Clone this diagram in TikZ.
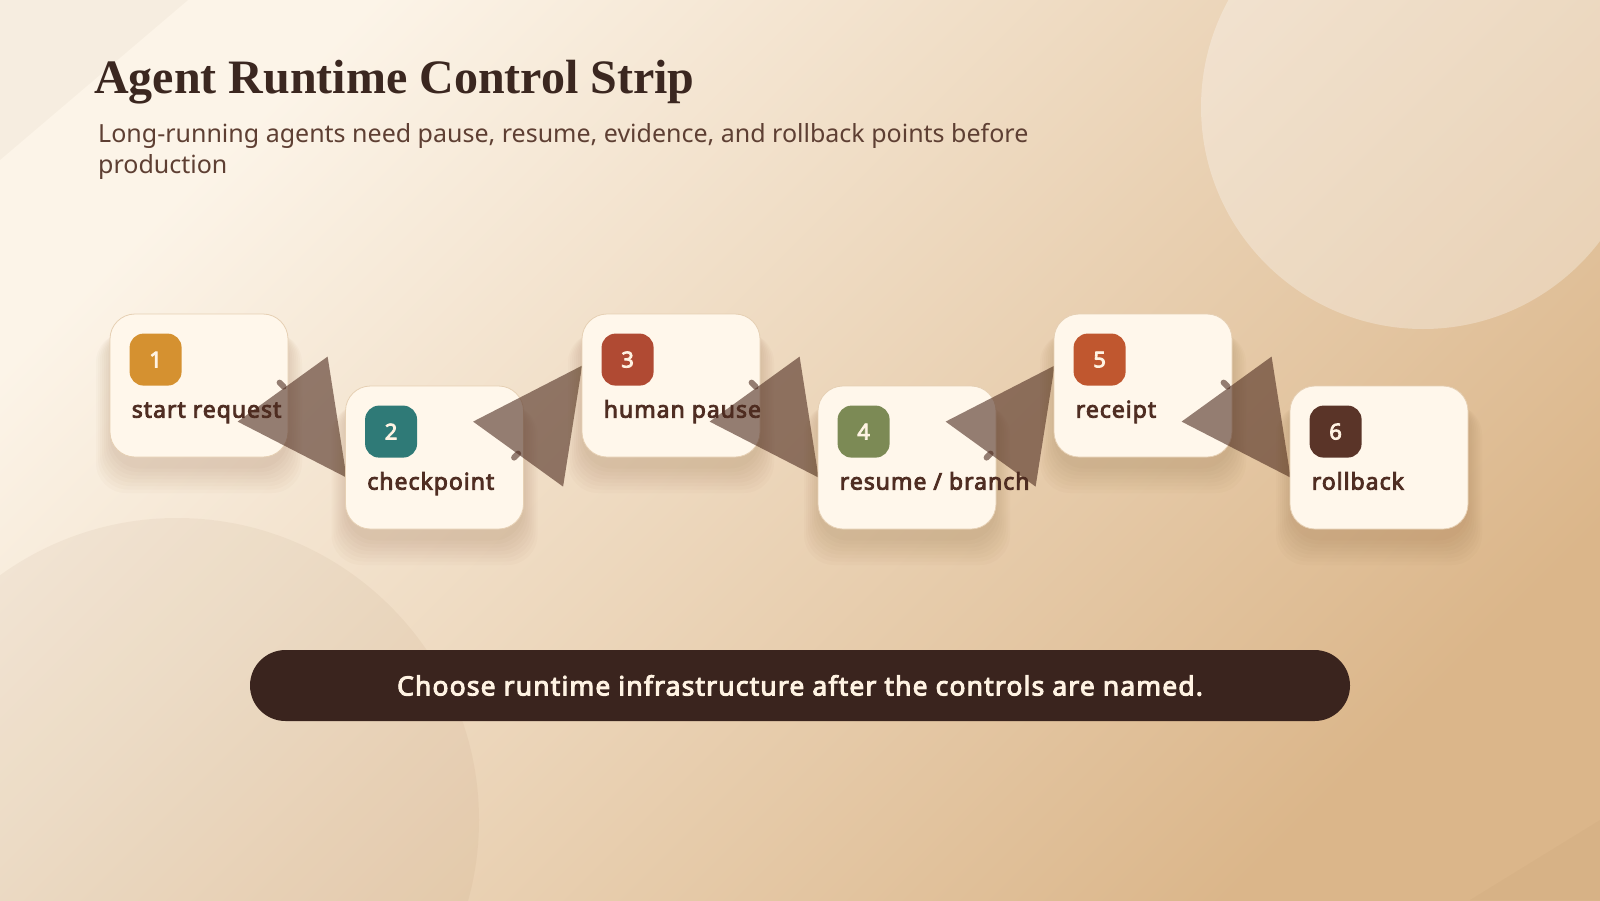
\documentclass[tikz,border=0pt]{standalone}
\usepackage{fontspec}
\usetikzlibrary{calc}
\newfontfamily\sansf{Noto Sans}
\newfontfamily\sansb{Noto Sans}[FakeBold=3.6, LetterSpace=4.3]
\newfontfamily\seriff{Liberation Serif}
\definecolor{bgA}{HTML}{FCF4E8}
\definecolor{bgM}{HTML}{F0DEC5}
\definecolor{bgB}{HTML}{DBB68A}
\definecolor{cardfill}{HTML}{FFF7EB}
\definecolor{cardline}{HTML}{E6D0B4}
\definecolor{shadowc}{HTML}{7A4A20}
\definecolor{ink}{HTML}{3B2720}
\definecolor{subink}{HTML}{5E3F33}
\definecolor{lblink}{HTML}{4F2D22}
\definecolor{cream}{HTML}{FFF3E3}
\definecolor{arrowc}{HTML}{4E2C20}
\definecolor{barc}{HTML}{3A241E}
\definecolor{cA}{HTML}{D59130}
\definecolor{cB}{HTML}{2F7A77}
\definecolor{cC}{HTML}{B04A33}
\definecolor{cD}{HTML}{7C8A55}
\definecolor{cE}{HTML}{C0572F}
\definecolor{cF}{HTML}{5A3428}
\tikzset{
  card/.style={draw=cardline, line width=0.8pt, fill=cardfill, rounded corners=25pt,
    minimum width=178pt, minimum height=143pt, inner sep=0pt},
  badge/.style={fill=#1, rounded corners=14pt, minimum size=52pt, inner sep=0pt,
    text=cream, font=\sansb\fontsize{22}{26}\selectfont},
  lbl/.style={anchor=base west, inner sep=0pt, text=lblink,
    font=\sansb\fontsize{23}{28}\selectfont},
  tri/.style={fill=arrowc, fill opacity=0.6},
  stub/.style={draw=arrowc, draw opacity=0.6, line width=6pt, line cap=round},
}
\newcommand\mkcard[6]{%
  \foreach \k in {0,...,7}{%
    \fill[shadowc, opacity=0.022, rounded corners=30pt]
      ({#2-89-2*\k},{#3-60+\k}) rectangle ({#2+89+2*\k},{#3+83+3.5*\k});
  }
  \node[card] (#1) at (#2,#3) {};
  \node[badge=#4] (#1n) at ($(#1.north west)+(46,46)$) {#5};
  \node[lbl] (#1l) at ($(#1.north west)+(22,104)$) {#6};
}
\newcommand\downlink[2]{%
  \coordinate (#1tip) at ($(#1.north west)+(128,108)$);
  \coordinate (#1top) at ($(#1.north west)+(218,43)$);
  \coordinate (#1bot) at ($(#1.north west)+(237,164)$);
  \fill[tri] (#1tip) -- (#1top) -- (#1bot) -- cycle;
  \coordinate (#1s) at ($(#1.north west)+(170,69)$);
  \coordinate (#1e) at ($(#1.north west)+(174,73)$);
  \draw[stub] (#1s) -- (#1e);
}
\newcommand\uplink[2]{%
  \coordinate (#1tip) at ($(#1.north west)+(128,36)$);
  \coordinate (#1bot) at ($(#1.north west)+(218,101)$);
  \coordinate (#1top) at ($(#1.north west)+(237,-20)$);
  \fill[tri] (#1tip) -- (#1bot) -- (#1top) -- cycle;
  \coordinate (#1s) at ($(#1.north west)+(169,72)$);
  \coordinate (#1e) at ($(#1.north west)+(173,68)$);
  \draw[stub] (#1s) -- (#1e);
}
\begin{document}
\begin{tikzpicture}[x=1pt,y=-1pt]
\useasboundingbox (0,0) rectangle (1600,900);
\shade[top color=bgA, middle color=bgM, bottom color=bgB, shading angle=45] (0,0) rectangle (1600,900);
% decorative circles
\fill[white, opacity=0.3] (1423,107) circle[radius=222pt];
\fill[shadowc, opacity=0.05] (177,820) circle[radius=302pt];
% corner textures
\fill[shadowc, opacity=0.04] (0,0) -- (188,0) -- (0,160) -- cycle;
\fill[shadowc, opacity=0.035] (1600,820) -- (1600,900) -- (1470,900) -- cycle;
% title
\node[anchor=base west, inner sep=0pt, text=ink, font=\seriff\bfseries\fontsize{48}{58}\selectfont] (title) at (94,93) {Agent Runtime Control Strip};
\node[anchor=base west, inner sep=0pt, text=subink, font=\sansf\fontsize{25}{30}\selectfont] (sub1) at (98,142) {Long-running agents need pause, resume, evidence, and rollback points before};
\node[anchor=base west, inner sep=0pt, text=subink, font=\sansf\fontsize{25}{30}\selectfont] (sub2) at (98,173) {production};
% cards and links
\mkcard{b1}{199}{385.5}{cA}{1}{start request}
\downlink{b1}{b2}
\mkcard{b2}{434.5}{457.5}{cB}{2}{checkpoint}
\uplink{b2}{b3}
\mkcard{b3}{671}{385.5}{cC}{3}{human pause}
\downlink{b3}{b4}
\mkcard{b4}{907}{457.5}{cD}{4}{resume / branch}
\uplink{b4}{b5}
\mkcard{b5}{1143}{385.5}{cE}{5}{receipt}
\downlink{b5}{b6}
\mkcard{b6}{1379}{457.5}{cF}{6}{rollback}
% bottom bar
\node[fill=barc, rounded corners=35.5pt, minimum width=1100pt, minimum height=71pt, inner sep=0pt,
  text=cream, font=\sansb\fontsize{26.5}{32}\selectfont] (cta) at (800,685.5)
  {Choose runtime infrastructure after the controls are named.};
\end{tikzpicture}
\end{document}
